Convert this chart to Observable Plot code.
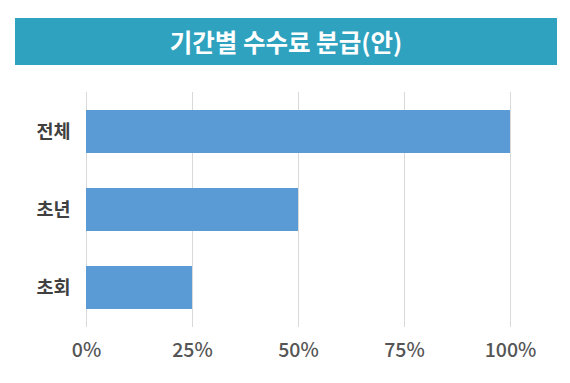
<!DOCTYPE html>
<html>
<head>
<meta charset="utf-8">
<script src="https://cdn.jsdelivr.net/npm/d3@7"></script>
<script src="https://cdn.jsdelivr.net/npm/@observablehq/plot@0.6"></script>
<style>
  html, body { margin: 0; padding: 0; background: #fff; }
  body { width: 570px; height: 383px; overflow: hidden; font-family: "Noto Sans CJK KR", "Noto Sans", sans-serif; }
  #banner {
    position: absolute; left: 15px; top: 18px; width: 542px; height: 47px;
    background: #2ea2be; color: #fff; font-weight: bold; font-size: 24.5px;
    display: flex; align-items: center; justify-content: center; letter-spacing: 0px;
  }
  #chart { position: absolute; left: 0; top: 70px; }
</style>
</head>
<body>
<div id="banner">기간별 수수료 분급(안)</div>
<div id="chart"></div>
<script>
const title = "기간별 수수료 분급(안)";
const categories = ["전체", "초년", "초회"];
const values = [1.0, 0.5, 0.25];
const tickValues = [0, 0.25, 0.5, 0.75, 1];
const tickLabels = ["0%", "25%", "50%", "75%", "100%"];

const data = categories.map((c, i) => ({category: c, value: values[i]}));

const chart = Plot.plot({
  width: 570,
  height: 313,
  marginTop: 22,
  marginBottom: 56,
  marginLeft: 86,
  marginRight: 60,
  style: {fontFamily: '"Noto Sans CJK KR", sans-serif', background: "#fff"},
  x: {domain: [0, 1], ticks: tickValues, tickFormat: (d) => tickLabels[tickValues.indexOf(d)]},
  y: {domain: categories, paddingInner: 0.45, paddingOuter: 0.225},
  marks: [
    Plot.gridX(tickValues, {stroke: "#d9d9d9", strokeOpacity: 1, strokeWidth: 1}),
    Plot.barX(data, {x: "value", y: "category", fill: "#5b9bd5"}),
    Plot.axisX({ticks: tickValues, tickFormat: (d) => tickLabels[tickValues.indexOf(d)], tickSize: 0, tickPadding: 16, fontSize: 19.5, fontWeight: 500, fill: "#555555", label: null}),
    Plot.axisY({tickSize: 0, tickPadding: 16, fontSize: 18.5, fontWeight: "bold", fill: "#404040", label: null})
  ]
});
document.getElementById("chart").appendChild(chart);
</script>
</body>
</html>
